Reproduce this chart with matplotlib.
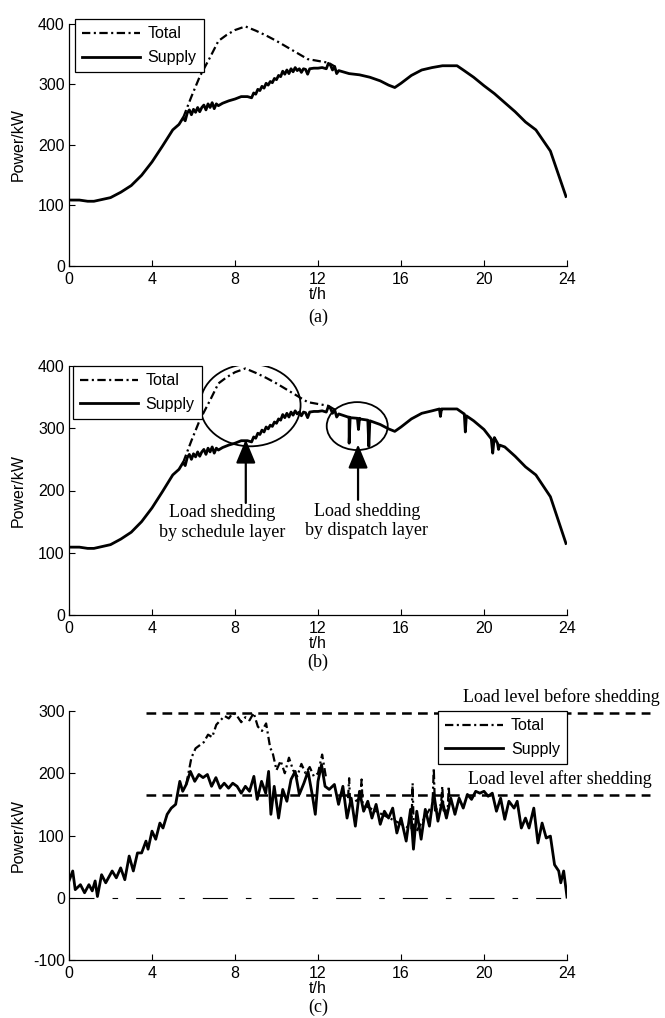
import numpy as np
import matplotlib
matplotlib.use("Agg")
import matplotlib.pyplot as plt
from matplotlib.patches import Ellipse, FancyArrowPatch

plt.rcParams['font.family'] = ['Liberation Sans Narrow', 'Liberation Sans', 'DejaVu Sans']
plt.rcParams['lines.scale_dashes'] = False
plt.rcParams['axes.unicode_minus'] = False
SERIF = ['Liberation Serif', 'DejaVu Serif']

# ---------------- data ----------------
# Panel (a)/(b): supply profile (kW) over the day (h)
supply_t = [0, 0.5, 0.9, 1.2, 1.6, 2.0, 2.5, 3.0, 3.5, 4.0, 4.5, 5.0, 5.3, 5.5, 5.6,
            5.7, 5.8, 5.9, 6.0, 6.1, 6.2, 6.3, 6.4, 6.5, 6.6, 6.7, 6.8, 6.9, 7.0,
            7.1, 7.2, 7.4, 7.7, 8.0, 8.3, 8.6, 8.8, 8.9, 9.0, 9.1, 9.2, 9.3, 9.4,
            9.5, 9.6, 9.7, 9.8, 9.9, 10.0, 10.1, 10.2, 10.3, 10.4, 10.5, 10.6, 10.7,
            10.8, 10.9, 11.0, 11.1, 11.2, 11.3, 11.4, 11.5, 11.6, 11.8, 12.0, 12.2,
            12.4, 12.5, 12.6, 12.7, 12.8, 12.9, 13.0, 13.5, 14.0, 14.5, 15.0, 15.4,
            15.7, 16.0, 16.5, 17.0, 17.5, 18.0, 18.7, 19.0, 19.5, 20.0, 20.5, 21.0,
            21.5, 22.0, 22.5, 22.9, 23.2, 23.5, 23.8, 23.95]
supply_p = [109, 109, 107, 107, 110, 113, 122, 133, 150, 172, 198, 225, 234, 245, 240,
            253, 258, 250, 259, 254, 262, 255, 262, 266, 258, 268, 262, 270, 260,
            268, 265, 269, 273, 276, 280, 280, 278, 286, 284, 292, 290, 297, 294,
            302, 299, 305, 303, 310, 308, 315, 313, 322, 317, 324, 318, 326,
            321, 328, 323, 326, 320, 326, 325, 317, 326, 327, 327, 328,
            326, 335, 332, 324, 330, 318, 323, 318, 316, 312, 306, 299,
            295, 302, 315, 324, 328, 331, 331, 324, 312, 298, 285, 270,
            255, 238, 225, 205, 190, 160, 130, 115]

total_t = [5.5, 5.9, 6.3, 6.8, 7.2, 7.6, 8.0, 8.5, 9.0, 9.5, 10.0, 10.5, 11.0, 11.5,
           12.0, 12.5, 12.8]
total_p = [245, 280, 313, 345, 372, 382, 390, 396, 389, 381, 372, 362, 352, 342,
           339, 336, 330]

# Panel (b): short supply drops caused by the dispatch layer
dip_t = [13.45, 13.5, 13.55, 13.9, 13.95, 14.0, 14.4, 14.45, 14.5,
         17.85, 17.9, 17.95, 19.05, 19.1, 19.15,
         20.35, 20.42, 20.48, 20.65, 20.7, 20.75]
dip_p = [318, 276, 317, 316, 298, 315, 313, 271, 312,
         331, 319, 331, 323, 294, 320,
         283, 260, 280, 276, 266, 273]

# Panel (c): net supply and total
c_supply_t = [0, 0.18, 0.3, 0.55, 0.75, 0.96, 1.12, 1.26, 1.37, 1.57, 1.77, 2.08, 2.28,
              2.49, 2.69, 2.9, 3.1, 3.3, 3.5, 3.71, 3.81, 4.0, 4.18, 4.38, 4.53, 4.73,
              4.93, 5.14, 5.34, 5.48, 5.65, 5.85, 6.06, 6.26, 6.46, 6.67, 6.87, 7.08,
              7.28, 7.48, 7.69, 7.89, 8.1, 8.3, 8.5, 8.7, 8.91, 9.07, 9.28, 9.48, 9.62,
              9.73, 9.89, 10.1, 10.3, 10.5, 10.7, 10.9, 11.1, 11.32, 11.52, 11.72,
              11.87, 12.0, 12.17, 12.34, 12.54, 12.79, 12.99, 13.2, 13.4, 13.6, 13.8,
              14.0, 14.2, 14.4, 14.6, 14.8, 15.0, 15.2, 15.4, 15.6, 15.8, 16.0, 16.25,
              16.46, 16.6, 16.76, 16.97, 17.17, 17.37, 17.58, 17.78, 17.99, 18.19,
              18.4, 18.6, 18.8, 19.0, 19.2, 19.4, 19.6, 19.8, 20.0, 20.2, 20.4, 20.6,
              20.8, 21.0, 21.2, 21.45, 21.6, 21.8, 22.0, 22.17, 22.4, 22.6, 22.8, 23.0,
              23.2, 23.4, 23.6, 23.7, 23.84, 24.0]
c_supply_p = [27, 43, 13, 21, 8, 21, 11, 27, 2, 37, 24, 43, 32,
              48, 29, 67, 43, 72, 72, 91, 78, 107, 94, 120, 112, 134,
              144, 150, 187, 171, 182, 203, 187, 198, 193, 198, 179, 193,
              176, 184, 176, 184, 179, 168, 179, 171, 195, 158, 187, 168, 203,
              134, 179, 128, 174, 155, 190, 203, 166, 184, 203, 166,
              134, 187, 214, 179, 174, 182, 150, 179, 128, 160, 115,
              171, 139, 155, 128, 150, 118, 139, 128, 144, 104, 128, 91,
              142, 78, 139, 94, 142, 115, 168, 123, 155, 128,
              160, 134, 160, 144, 166, 158, 171, 168, 171, 163, 168, 139,
              160, 126, 155, 144, 155, 112, 128, 112, 144, 88, 120, 96,
              99, 53, 43, 24, 43, 1]

c_total_t = [5.65, 5.9, 6.1, 6.3, 6.5, 6.7, 6.9, 7.1, 7.3, 7.5, 7.7, 7.9, 8.1, 8.3, 8.5,
             8.7, 8.9, 9.1, 9.3, 9.5, 9.7, 9.8, 10.0, 10.2, 10.4, 10.6, 10.8, 11.0,
             11.2, 11.4, 11.6, 11.8, 12.0, 12.2, 12.4]
c_total_p = [182, 225, 240, 245, 250, 262, 258, 278, 285, 292, 288, 297, 292, 282, 290,
             285, 297, 275, 268, 280, 240, 235, 205, 220, 200, 225, 205, 195,
             215, 200, 210, 195, 200, 230, 190]
c_spike_t = [13.45, 13.5, 13.55, 14.05, 14.1, 14.15, 16.5, 16.56, 16.62,
             17.52, 17.58, 17.64, 17.93, 17.99, 18.05, 18.25, 18.3, 18.35]
c_spike_p = [160, 192, 150, 160, 190, 150, 110, 184, 100,
             150, 208, 140, 150, 179, 140, 140, 179, 150]

level_before = 296
level_after = 165
level_span = [3.7, 28.0]

hours = [0, 4, 8, 12, 16, 20, 24]

# ---------------- figure ----------------
W, H = 665, 1018
fig = plt.figure(figsize=(W / 100, H / 100), dpi=100)

def px_axes(top, bottom, left=69, right=567):
    return fig.add_axes([left / W, 1 - bottom / H, (right - left) / W, (bottom - top) / H])

ax_a = px_axes(24, 266)
ax_b = px_axes(366, 615)
ax_c = px_axes(711, 960)

LW_S = 2.0
LW_T = 1.6
DASHDOT = (0, (6, 2.5, 1.5, 2.5))
TICK_FS = 11.5

def style(ax, ylim, yticks, letter, letter_y):
    ax.set_xlim(0, 24)
    ax.set_ylim(*ylim)
    ax.set_xticks(hours)
    ax.set_yticks(yticks)
    for s in ['top', 'right']:
        ax.spines[s].set_visible(False)
    for s in ['left', 'bottom']:
        ax.spines[s].set_linewidth(0.9)
    ax.tick_params(direction='in', length=4, width=0.8, labelsize=TICK_FS, pad=3)
    ax.tick_params(axis='x', pad=4)
    ax.set_xlabel('t/h', fontsize=TICK_FS, labelpad=0)
    ax.set_ylabel('Power/kW', fontsize=TICK_FS)
    ax.yaxis.set_label_coords(-43 / 498, 0.5)
    fig.text(318 / W, 1 - letter_y / H, letter, ha='center', va='center',
             fontsize=13, family=SERIF)

def legend(ax, loc, anchor):
    leg = ax.legend(loc=loc, bbox_to_anchor=anchor, fontsize=TICK_FS, frameon=True,
                    fancybox=False, edgecolor='black', framealpha=1, handlelength=3.6,
                    borderpad=0.45, labelspacing=0.55, handletextpad=0.5, borderaxespad=0)
    leg.get_frame().set_linewidth(0.9)
    return leg

# (a)
ax_a.plot(total_t, total_p, color='black', lw=LW_T, linestyle=DASHDOT, label='Total')
ax_a.plot(supply_t, supply_p, color='black', lw=LW_S, label='Supply')
style(ax_a, (0, 400), [0, 100, 200, 300, 400], '(a)', 317)
legend(ax_a, 'upper left', (0.012, 1.02))

# (b)
st = np.array(supply_t + dip_t)
sp = np.array(supply_p + dip_p)
order = np.argsort(st, kind='stable')
ax_b.plot(total_t, total_p, color='black', lw=LW_T, linestyle=DASHDOT, label='Total')
ax_b.plot(st[order], sp[order], color='black', lw=LW_S, label='Supply')
style(ax_b, (0, 400), [0, 100, 200, 300, 400], '(b)', 662)
legend(ax_b, 'upper left', (0.008, 1.0))

ax_b.add_patch(Ellipse((8.74, 337), 4.84, 132, fill=False, lw=1.3, color='black'))
ax_b.add_patch(Ellipse((13.89, 303.5), 2.94, 77, fill=False, lw=1.3, color='black'))
for x0, y0, y1 in [(8.52, 180, 282), (13.93, 185, 274)]:
    ax_b.add_patch(FancyArrowPatch((x0, y0), (x0, y1),
                                   arrowstyle='-|>,head_length=1.45,head_width=0.6',
                                   mutation_scale=10, lw=1.6, color='black',
                                   shrinkA=0, shrinkB=0))
ax_b.text(7.4, 149, 'Load shedding\nby schedule layer', ha='center', va='center',
          fontsize=13, family=SERIF, linespacing=1.2)
ax_b.text(14.35, 151, 'Load shedding\nby dispatch layer', ha='center', va='center',
          fontsize=13, family=SERIF, linespacing=1.2)

# (c)
ax_c.plot([0, 24], [0, 0], color='black', lw=0.8, linestyle=(0, (18, 13, 4, 13)))
ax_c.plot(level_span, [level_before, level_before], color='black', lw=1.8,
          linestyle=(0, (7, 4.5)), clip_on=False)
ax_c.plot(level_span, [level_after, level_after], color='black', lw=1.8,
          linestyle=(0, (7, 4.5)), clip_on=False)
ax_c.plot(c_total_t, c_total_p, color='black', lw=LW_T, linestyle=DASHDOT, label='Total')
ax_c.plot(c_spike_t, c_spike_p, color='black', lw=LW_T, linestyle=DASHDOT)
ax_c.plot(c_supply_t, c_supply_p, color='black', lw=LW_S, label='Supply')
style(ax_c, (-100, 300), [-100, 0, 100, 200, 300], '(c)', 1007)
handles, labels = ax_c.get_legend_handles_labels()
leg = ax_c.legend(handles, labels, loc='upper right', bbox_to_anchor=(1.0, 1.0),
                  fontsize=TICK_FS, frameon=True, fancybox=False, edgecolor='black',
                  framealpha=1, handlelength=3.6, borderpad=0.45, labelspacing=0.55,
                  handletextpad=0.5, borderaxespad=0)
leg.get_frame().set_linewidth(0.9)
ax_c.text(23.74, 323, 'Load level before shedding', ha='center', va='center',
          fontsize=13, family=SERIF, clip_on=False)
ax_c.text(23.64, 190, 'Load level after shedding', ha='center', va='center',
          fontsize=13, family=SERIF, clip_on=False)

fig.savefig('out.png', dpi=100)
